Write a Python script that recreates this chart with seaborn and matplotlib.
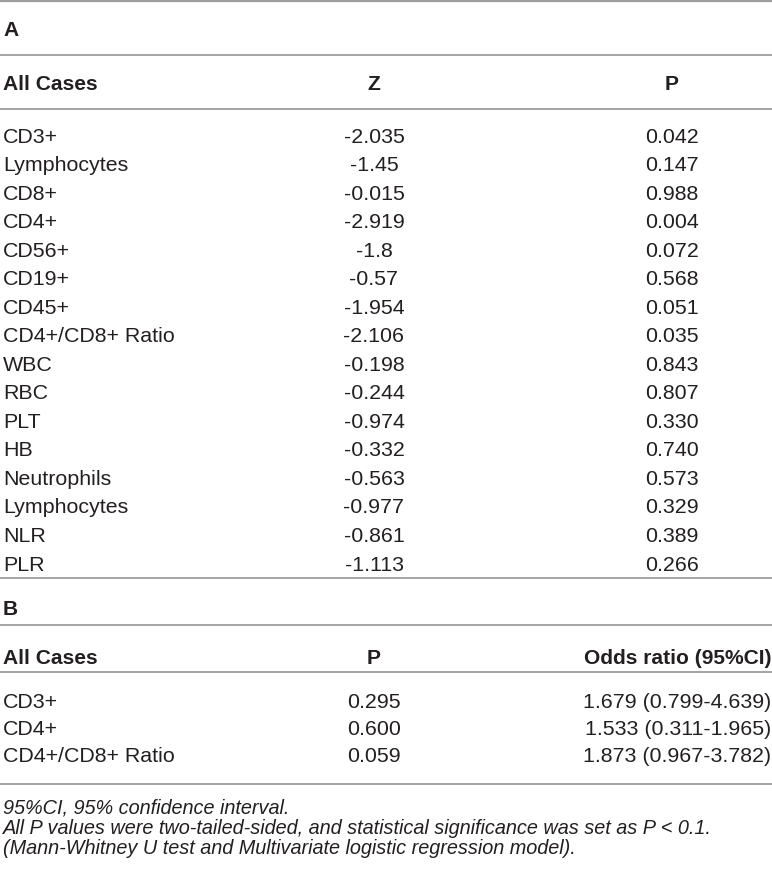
import matplotlib
matplotlib.use("Agg")
import matplotlib.pyplot as plt
import seaborn as sns
import pandas as pd

# ---- data ----
labels_a = ["CD3+", "Lymphocytes", "CD8+", "CD4+", "CD56+", "CD19+", "CD45+",
            "CD4+/CD8+ Ratio", "WBC", "RBC", "PLT", "HB", "Neutrophils",
            "Lymphocytes", "NLR", "PLR"]
z_a = ["-2.035", "-1.45", "-0.015", "-2.919", "-1.8", "-0.57", "-1.954",
       "-2.106", "-0.198", "-0.244", "-0.974", "-0.332", "-0.563", "-0.977",
       "-0.861", "-1.113"]
p_a = ["0.042", "0.147", "0.988", "0.004", "0.072", "0.568", "0.051", "0.035",
       "0.843", "0.807", "0.330", "0.740", "0.573", "0.329", "0.389", "0.266"]
headers_a = ["All Cases", "Z", "P"]

labels_b = ["CD3+", "CD4+", "CD4+/CD8+ Ratio"]
p_b = ["0.295", "0.600", "0.059"]
or_b = ["1.679 (0.799-4.639)", "1.533 (0.311-1.965)", "1.873 (0.967-3.782)"]
headers_b = ["All Cases", "P", "Odds ratio (95%CI)"]

footnotes = [
    "95%CI, 95% confidence interval.",
    "All P values were two-tailed-sided, and statistical significance was set as P < 0.1.",
    "(Mann-Whitney U test and Multivariate logistic regression model).",
]

df_a = pd.DataFrame({"label": labels_a, "z": z_a, "p": p_a})
df_b = pd.DataFrame({"label": labels_b, "p": p_b, "or": or_b})

# ---- style ----
sns.set_theme(style="white")
plt.rcParams["font.family"] = ["Liberation Sans", "DejaVu Sans"]

W, H = 772, 874
fig = plt.figure(figsize=(W / 100, H / 100), dpi=100)
ax = fig.add_axes([0, 0, 1, 1])
ax.set_xlim(0, W)
ax.set_ylim(H, 0)
ax.axis("off")

TXT = "#231f20"
RULE = "#9d9d9d"
FS = 15.4
FS_BOLD = 15.1
FS_FOOT = 14.3
CAP = 7.6  # half cap-height in px (baseline offset from visual centre)

x_left = 3
x_mid = 374
x_p = 672
x_right = 771


def rule(y, lw=1.3):
    ax.axhline(y, color=RULE, lw=lw)


def txt(x, y, s, ha="left", bold=False, italic=False, fs=None):
    if fs is None:
        fs = FS_BOLD if bold else FS
    ax.text(x, y + CAP, s, ha=ha, va="baseline", fontsize=fs, color=TXT,
            fontweight="bold" if bold else "normal",
            fontstyle="italic" if italic else "normal")


# ---- panel A ----
rule(1.0, lw=1.6)
txt(x_left, 28, "A", bold=True)
rule(54.5)
txt(x_left, 82, headers_a[0], bold=True)
txt(x_mid, 82, headers_a[1], ha="center", bold=True)
txt(x_p, 82, headers_a[2], ha="center", bold=True)
rule(108.5)
y0_a, dy_a = 135, 28.53
for i, row in df_a.iterrows():
    y = y0_a + i * dy_a
    txt(x_left, y, row["label"])
    txt(x_mid, y, row["z"], ha="center")
    txt(x_p, y, row["p"], ha="center")
rule(577.5)

# ---- panel B ----
txt(x_left, 607, "B", bold=True)
rule(624.5)
txt(x_left, 656, headers_b[0], bold=True)
txt(x_mid, 656, headers_b[1], ha="center", bold=True)
txt(x_right, 656, headers_b[2], ha="right", bold=True)
rule(672)
y0_b, dy_b = 700, 27.2
for i, row in df_b.iterrows():
    y = y0_b + i * dy_b
    txt(x_left, y, row["label"])
    txt(x_mid, y, row["p"], ha="center")
    txt(x_right, y, row["or"], ha="right")
rule(784)

# ---- footnotes ----
for i, s in enumerate(footnotes):
    txt(x_left, 806 + i * 20.3, s, italic=True, fs=FS_FOOT)

fig.savefig("out.png", dpi=100, facecolor="white")
